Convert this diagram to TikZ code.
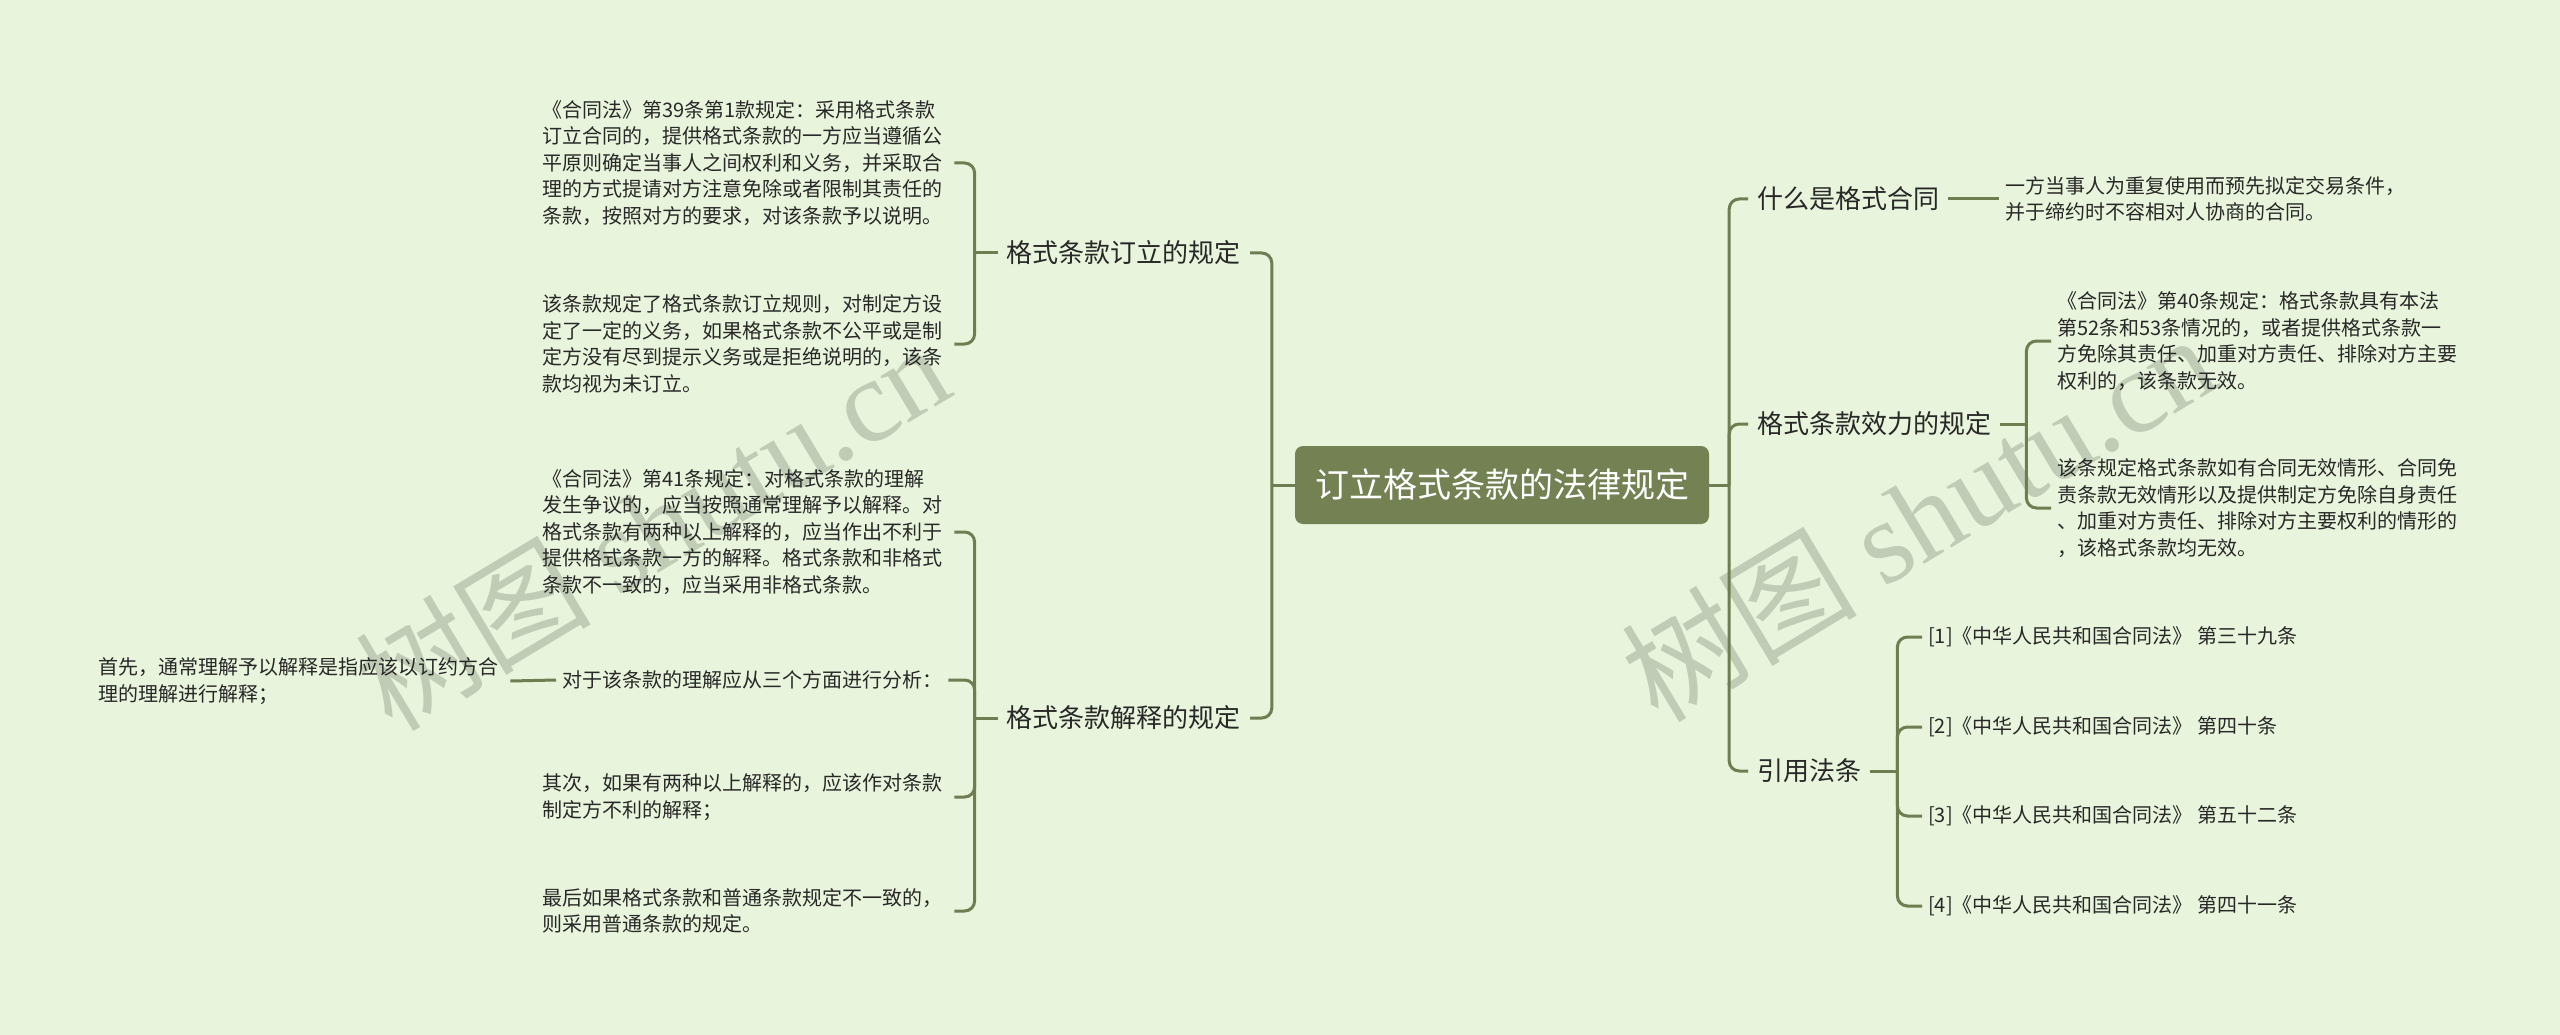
\documentclass[tikz,border=0pt]{standalone}
\usepackage{fontspec}
\setmainfont{Noto Sans CJK SC}
\newfontfamily\wmfont{Liberation Serif}
\definecolor{bg}{RGB}{232,244,219}
\definecolor{ln}{RGB}{112,125,80}
\definecolor{cf}{RGB}{115,129,83}
\definecolor{tx}{RGB}{40,40,40}
\definecolor{wm}{RGB}{192,204,182}
\begin{document}
\begin{tikzpicture}[x=1pt,y=-1pt,
  leaf/.style={font=\fontsize{20}{26.5}\selectfont, text=tx, align=left, inner xsep=6pt, inner ysep=2pt},
  wleaf/.style={leaf, text width=406pt},
  lone/.style={font=\fontsize{26}{32}\selectfont, text=tx, inner xsep=9pt, inner ysep=2pt},
  root/.style={fill=cf, rounded corners=8pt, text=white, font=\fontsize{34}{40}\selectfont, minimum width=414pt, minimum height=78pt},
  conn/.style={draw=ln, line width=3pt, rounded corners=10pt},
  wmark/.style={text=wm, rotate=31, font=\fontsize{118}{118}\selectfont}
]
\fill[bg] (0,0) rectangle (2560,1035);
\useasboundingbox (0,0) rectangle (2560,1035);

% watermarks
\node[wmark] (w1) at (652,525) {树图 {\wmfont shutu.cn}};
\node[wmark] (w2) at (1918,516) {树图 {\wmfont shutu.cn}};

% root
\node[root] (c) at (1502,485) {订立格式条款的法律规定};

% left level 1
\node[lone, anchor=east] (l1) at (1250,253) {格式条款订立的规定};
\node[lone, anchor=east] (l2) at (1250,718) {格式条款解释的规定};

% left leaves
\node[wleaf, anchor=west] (a1) at (536,163) {《合同法》第39条第1款规定：采用格式条款\\订立合同的，提供格式条款的一方应当遵循公\\平原则确定当事人之间权利和义务，并采取合\\理的方式提请对方注意免除或者限制其责任的\\条款，按照对方的要求，对该条款予以说明。};
\node[wleaf, anchor=west] (a2) at (536,344) {该条款规定了格式条款订立规则，对制定方设\\定了一定的义务，如果格式条款不公平或是制\\定方没有尽到提示义务或是拒绝说明的，该条\\款均视为未订立。};
\node[wleaf, anchor=west] (b1) at (536,532) {《合同法》第41条规定：对格式条款的理解\\发生争议的，应当按照通常理解予以解释。对\\格式条款有两种以上解释的，应当作出不利于\\提供格式条款一方的解释。格式条款和非格式\\条款不一致的，应当采用非格式条款。};
\node[leaf, anchor=west] (b2) at (556,680) {对于该条款的理解应从三个方面进行分析：};
\node[wleaf, anchor=west] (b2a) at (92,681) {首先，通常理解予以解释是指应该以订约方合\\理的理解进行解释；};
\node[wleaf, anchor=west] (b3) at (536,797) {其次，如果有两种以上解释的，应该作对条款\\制定方不利的解释；};
\node[wleaf, anchor=west] (b4) at (536,911) {最后如果格式条款和普通条款规定不一致的，\\则采用普通条款的规定。};

% right level 1
\node[lone, anchor=west] (r1) at (1748,199) {什么是格式合同};
\node[lone, anchor=west] (r2) at (1748,424) {格式条款效力的规定};
\node[lone, anchor=west] (r3) at (1748,771) {引用法条};

% right leaves
\node[wleaf, anchor=west] (r1a) at (1999,199) {一方当事人为重复使用而预先拟定交易条件，\\并于缔约时不容相对人协商的合同。};
\node[wleaf, anchor=west] (r2a) at (2051,341) {《合同法》第40条规定：格式条款具有本法\\第52条和53条情况的，或者提供格式条款一\\方免除其责任、加重对方责任、排除对方主要\\权利的，该条款无效。};
\node[wleaf, anchor=west] (r2b) at (2051,508) {该条规定格式条款如有合同无效情形、合同免\\责条款无效情形以及提供制定方免除自身责任\\、加重对方责任、排除对方主要权利的情形的\\，该格式条款均无效。};
\node[leaf, anchor=west] (r3a) at (1922,637) {[1]《中华人民共和国合同法》 第三十九条};
\node[leaf, anchor=west] (r3b) at (1922,727) {[2]《中华人民共和国合同法》 第四十条};
\node[leaf, anchor=west] (r3c) at (1922,816) {[3]《中华人民共和国合同法》 第五十二条};
\node[leaf, anchor=west] (r3d) at (1922,906) {[4]《中华人民共和国合同法》 第四十一条};

% junction coordinates
\coordinate (lj) at ([xshift=-23pt]c.west);
\coordinate (rj) at ([xshift=20pt]c.east);
\coordinate (l1j) at ([xshift=-23pt]l1.west);
\coordinate (l2j) at ([xshift=-23pt]l2.west);
\coordinate (r2j) at ([xshift=26pt]r2.east);
\coordinate (r3j) at ([xshift=27pt]r3.east);

% connectors
\draw[conn] (c.west) -- (lj);
\draw[conn] (lj) |- (l1.east);
\draw[conn] (lj) |- (l2.east);
\draw[conn] (c.east) -- (rj);
\draw[conn] (rj) |- (r1.west);
\draw[conn] (rj) |- (r2.west);
\draw[conn] (rj) |- (r3.west);

\draw[conn] (l1.west) -- (l1j);
\draw[conn] (l1j) |- (a1.east);
\draw[conn] (l1j) |- (a2.east);

\draw[conn] (l2.west) -- (l2j);
\draw[conn] (l2j) |- (b1.east);
\draw[conn] (l2j) |- (b2.east);
\draw[conn] (l2j) |- (b3.east);
\draw[conn] (l2j) |- (b4.east);
\draw[conn] (b2.west) -- (b2a.east);

\draw[conn] (r1.east) -- (r1a.west);
\draw[conn] (r2.east) -- (r2j);
\draw[conn] (r2j) |- (r2a.west);
\draw[conn] (r2j) |- (r2b.west);
\draw[conn] (r3.east) -- (r3j);
\draw[conn] (r3j) |- (r3a.west);
\draw[conn] (r3j) |- (r3b.west);
\draw[conn] (r3j) |- (r3c.west);
\draw[conn] (r3j) |- (r3d.west);
\end{tikzpicture}
\end{document}
